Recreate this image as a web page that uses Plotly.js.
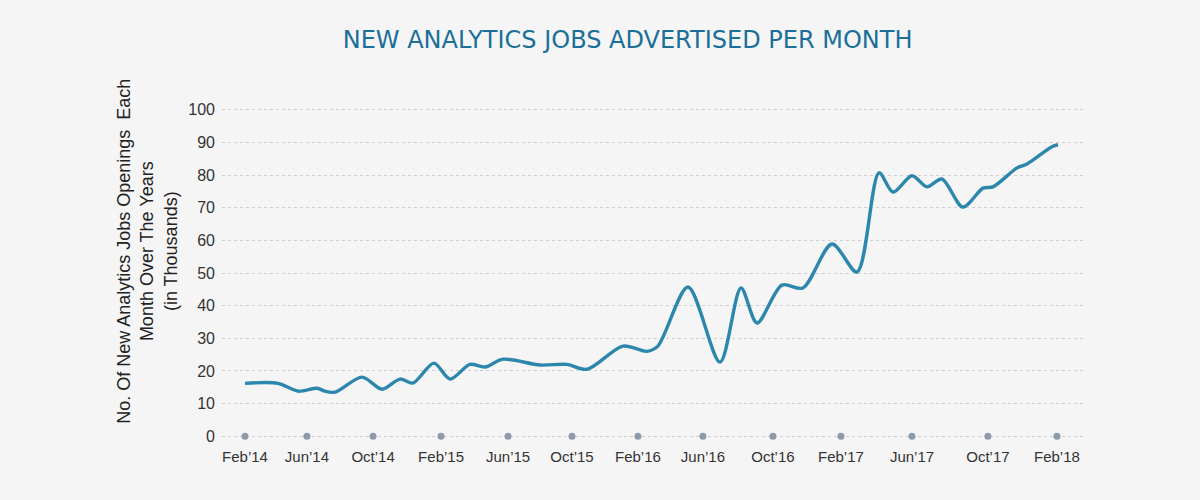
<!DOCTYPE html>
<html>
<head>
<meta charset="utf-8">
<script src="https://cdn.plot.ly/plotly-3.0.1.min.js"></script>
<style>
html,body{margin:0;padding:0;background:#f5f5f5;}
#chart{width:1200px;height:500px;}
</style>
</head>
<body>
<div id="chart"></div>
<script>
// Months since Feb'14 (fractional) and job counts (thousands)
var months = [0, 1.95, 3.13, 4.26, 4.73, 5.32, 6.92, 8.10, 9.16, 9.93, 11.17, 12.12, 13.30, 14.19, 15.25, 17.44, 19.03, 20.22, 22.34, 23.76, 24.41, 26.19, 28.08, 29.32, 30.27, 31.74, 32.98, 34.70, 36.18, 37.48, 38.31, 39.43, 40.32, 41.20, 42.44, 43.63, 44.22, 45.64, 46.23, 47.70, 48.06];
var jobs = [16.2, 16.2, 13.8, 14.7, 13.8, 13.5, 18.1, 14.4, 17.5, 16.3, 22.4, 17.5, 22.0, 21.2, 23.6, 21.8, 22.0, 20.5, 27.6, 26.0, 27.6, 45.7, 22.7, 45.4, 34.7, 46.3, 45.4, 58.9, 50.3, 80.7, 74.8, 79.8, 76.4, 78.8, 70.2, 76.0, 76.4, 82.2, 83.4, 88.7, 89.3];

// Tick labels and their positions on the month axis (as drawn in the picture)
var tickLabels = ["Feb\u201914", "Jun\u201914", "Oct\u201914", "Feb\u201915", "Jun\u201915", "Oct\u201915", "Feb\u201916", "Jun\u201916", "Oct\u201916", "Feb\u201917", "Jun\u201917", "Oct\u201917", "Feb\u201918"];
var tickMonths = [0, 3.66, 7.57, 11.59, 15.55, 19.33, 23.23, 27.07, 31.21, 35.23, 39.43, 43.92, 48];
var tickDotValues = [0, 0, 0, 0, 0, 0, 0, 0, 0, 0, 0, 0, 0];

var yTicks = [0, 10, 20, 30, 40, 50, 60, 70, 80, 90, 100];

var yTitle = "No. Of New Analytics Jobs Openings  Each<br>Month Over The Years<br>(in Thousands)";

var traces = [
  {
    x: tickMonths, y: tickDotValues, type: "scatter", mode: "markers",
    marker: {color: "#8c9baa", size: 7},
    hoverinfo: "skip", showlegend: false, cliponaxis: false
  },
  {
    x: months, y: jobs, type: "scatter", mode: "lines",
    line: {color: "#2d87ad", width: 3.4, shape: "spline", smoothing: 0.85},
    showlegend: false
  }
];

var layout = {
  width: 1200, height: 500,
  paper_bgcolor: "#f5f5f5", plot_bgcolor: "#f5f5f5",
  margin: {l: 222, r: 117, t: 100, b: 54},
  title: {
    text: "NEW ANALYTICS JOBS ADVERTISED PER MONTH",
    x: 0.523, xanchor: "center", y: 0.92, yanchor: "middle",
    font: {family: "DejaVu Sans, Open Sans, sans-serif", size: 24, color: "#1b6f98"}
  },
  xaxis: {
    range: [-1.36, 49.54],
    tickmode: "array", tickvals: tickMonths, ticktext: tickLabels,
    showgrid: false, zeroline: false, showline: false, ticks: "",
    tickfont: {family: "Liberation Sans, Arial, sans-serif", size: 15, color: "#333333"},
    fixedrange: true
  },
  yaxis: {
    range: [-3, 103],
    tickmode: "array", tickvals: yTicks,
    showgrid: true, gridcolor: "#cfcfcf", griddash: "dot", gridwidth: 1,
    zeroline: false, showline: false, ticks: "", ticklabelstandoff: 6,
    tickfont: {family: "Liberation Sans, Arial, sans-serif", size: 16, color: "#333333"},
    fixedrange: true
  },
  annotations: [{
    text: yTitle, textangle: -90, showarrow: false,
    xref: "paper", yref: "paper", x: -0.086, y: 0.564,
    xanchor: "center", yanchor: "middle", align: "center",
    font: {family: "Liberation Sans, Arial, sans-serif", size: 18, color: "#222222"}
  }]
};

Plotly.newPlot("chart", traces, layout, {displayModeBar: false, staticPlot: true});
</script>
</body>
</html>
